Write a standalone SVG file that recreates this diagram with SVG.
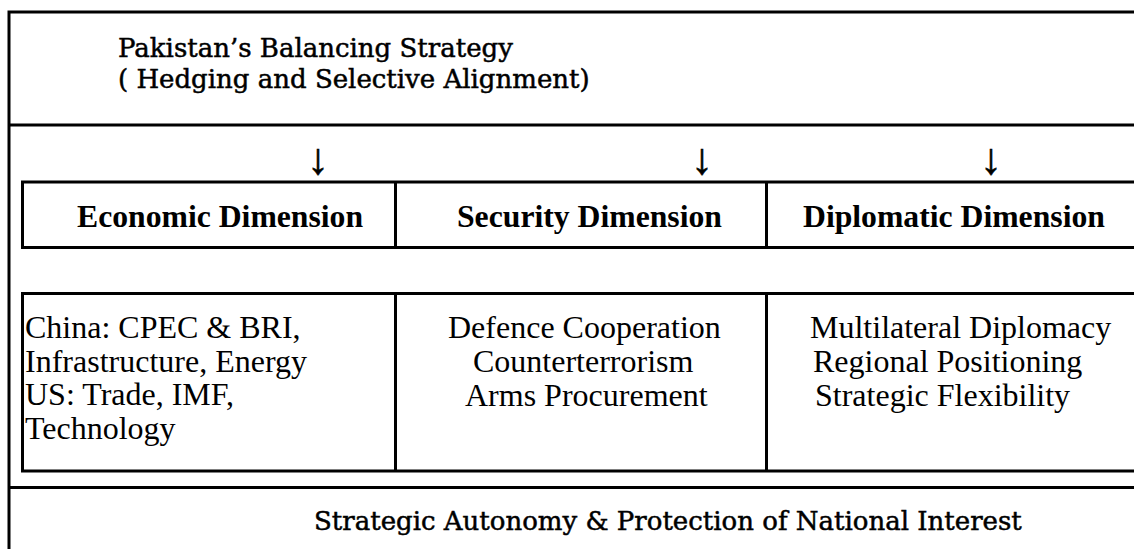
<svg xmlns="http://www.w3.org/2000/svg" width="1134" height="549" viewBox="0 0 1134 549">
<style>
.ln{stroke:#000;stroke-width:3;fill:none}
.ttl{font-family:"DejaVu Serif","Liberation Serif",serif;font-size:26px;fill:#000;stroke:#000;stroke-width:0.5}
.dim{font-family:"Liberation Serif","Times New Roman",serif;font-size:31.7px;font-weight:bold;fill:#000}
.txt{font-family:"Liberation Serif","Times New Roman",serif;font-size:32px;fill:#000}
.arr{font-family:"Liberation Serif","DejaVu Serif",serif;font-size:44px;fill:#000;stroke:#000;stroke-width:0.6;text-anchor:middle}
</style>
<rect width="1134" height="549" fill="#fff"/>
<g id="frame">
<path class="ln" d="M9 10.5V560M7.5 12H1140M7.5 125H1140M7.5 487.5H1140"/>
</g>
<g id="title">
<text class="ttl" x="118" y="57">Pakistan’s Balancing Strategy</text>
<text class="ttl" x="118" y="88">( Hedging and Selective Alignment)</text>
</g>
<g id="connectors">
<text class="arr" x="318" y="174">↓</text>
<text class="arr" x="702" y="174">↓</text>
<text class="arr" x="991" y="174">↓</text>
</g>
<g id="dimensions">
<path class="ln" d="M1140 182H22.5V247.5H1140M395.5 182V247.5M766.5 182V247.5"/>
<text class="dim" x="77" y="227">Economic Dimension</text>
<text class="dim" x="457" y="227">Security Dimension</text>
<text class="dim" x="803" y="227">Diplomatic Dimension</text>
</g>
<g id="economic">
<text class="txt" x="25" y="338">China: CPEC &amp; BRI,</text>
<text class="txt" x="25" y="372">Infrastructure, Energy</text>
<text class="txt" x="25" y="405">US: Trade, IMF,</text>
<text class="txt" x="25" y="439">Technology</text>
</g>
<g id="security">
<text class="txt" x="448" y="338">Defence Cooperation</text>
<text class="txt" x="473" y="372">Counterterrorism</text>
<text class="txt" x="465" y="406">Arms Procurement</text>
</g>
<g id="diplomatic">
<text class="txt" x="810" y="338">Multilateral Diplomacy</text>
<text class="txt" x="813" y="372">Regional Positioning</text>
<text class="txt" x="815" y="406">Strategic Flexibility</text>
</g>
<g id="content-frame">
<path class="ln" d="M1140 293.5H22.5V471H1140M395.5 293.5V471M766.5 293.5V471"/>
</g>
<g id="outcome">
<text class="ttl" x="314" y="530">Strategic Autonomy &amp; Protection of National Interest</text>
</g>
</svg>
